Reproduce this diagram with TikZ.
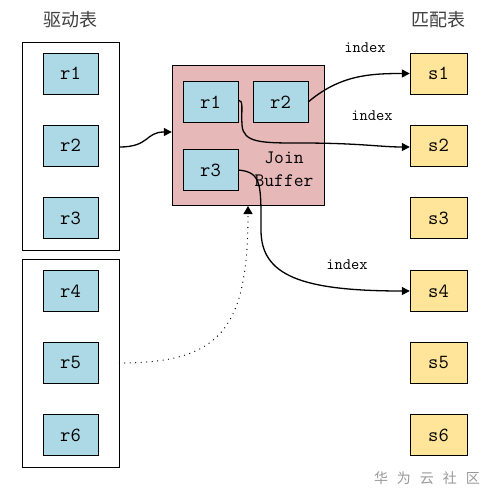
\documentclass[tikz,border=0pt]{standalone}
\usepackage{fontspec}
\newfontfamily\cjk{Noto Sans CJK SC}
\usetikzlibrary{arrows.meta}
\definecolor{rblue}{HTML}{ADD8E6}
\definecolor{jpink}{HTML}{E6B8B7}
\definecolor{syellow}{HTML}{FFE599}
\begin{document}
\begin{tikzpicture}[x=1pt,y=-1pt,
  rbox/.style={draw=black,fill=rblue,minimum width=55pt,minimum height=41pt,inner sep=0pt,font=\ttfamily\fontsize{20}{22}\selectfont},
  sbox/.style={draw=black,fill=syellow,minimum width=57pt,minimum height=41pt,inner sep=0pt,font=\ttfamily\fontsize{20}{22}\selectfont},
  group/.style={draw=black,fill=white,inner sep=0pt},
  conn/.style={draw=black,line width=1.3pt,-{Triangle[length=8pt,width=8pt]}},
  lab/.style={font=\ttfamily\fontsize{16}{18}\selectfont},
  title/.style={font=\cjk\fontsize{18}{20}\selectfont,text=black!75}]
\useasboundingbox (0,0) rectangle (494,504);
\fill[white] (0,0) rectangle (494,504);
% titles
\node[title] (t1) at (70,20) {驱动表};
\node[title] (t2) at (438,20) {匹配表};
% left groups
\node[group,minimum width=97pt,minimum height=208pt] (g1) at (70.5,146) {};
\node[group,minimum width=97pt,minimum height=208pt] (g2) at (70.5,363) {};
\node[rbox] (r1) at (70.5,73.5) {r1};
\node[rbox] (r2) at (70.5,145.5) {r2};
\node[rbox] (r3) at (70.5,218) {r3};
\node[rbox] (r4) at (70.5,291) {r4};
\node[rbox] (r5) at (70.5,363) {r5};
\node[rbox] (r6) at (70.5,435) {r6};
% join buffer
\node[draw=black,fill=jpink,minimum width=152pt,minimum height=140pt,inner sep=0pt] (jb) at (248,135) {};
\node[rbox] (b1) at (210.5,102) {r1};
\node[rbox] (b2) at (280.5,102) {r2};
\node[rbox] (b3) at (210.5,170) {r3};
\node[font=\ttfamily\fontsize{19}{23}\selectfont,align=center,inner sep=0pt] (jt) at (284,169) {Join\\Buffer};
% s boxes
\node[sbox] (s1) at (438.5,73.5) {s1};
\node[sbox] (s2) at (438.5,145.5) {s2};
\node[sbox] (s3) at (438.5,218) {s3};
\node[sbox] (s4) at (438.5,291) {s4};
\node[sbox] (s5) at (438.5,363) {s5};
\node[sbox] (s6) at (438.5,435) {s6};
% connectors
\draw[conn] (g1.east |- 0,147) .. controls (150,147) and (145,132) .. (jb.west |- 0,132);
\draw[conn] (b2.east) .. controls (340,75) and (370,73.5) .. (s1.west);
\draw[conn] (b1.east |- 0,100) .. controls (244,100) and (241,110) .. (242,125) .. controls (243,143) and (262,143) .. (300,143) .. controls (360,143) and (380,147) .. (s2.west |- 0,147);
\draw[conn] (b3.east) .. controls (262,172) and (261,185) .. (261,230) .. controls (261,275) and (300,291) .. (s4.west);
\coordinate (dt) at (248,206);
\draw[line width=1.3pt,line cap=round,dash pattern=on 0pt off 5.5pt,-{Triangle[length=8pt,width=9pt]}] (g2.east |- 0,363) .. controls (220,363) and (248,330) .. (dt);
% labels
\node[lab] (l1) at (365,48) {index};
\node[lab] (l2) at (372,116) {index};
\node[lab] (l3) at (347,265) {index};
% watermark
\node[font=\cjk\fontsize{14}{16}\selectfont,text=black!40] (wm) at (427,478) {华\hspace{9pt}为\hspace{9pt}云\hspace{9pt}社\hspace{9pt}区};
\end{tikzpicture}
\end{document}
